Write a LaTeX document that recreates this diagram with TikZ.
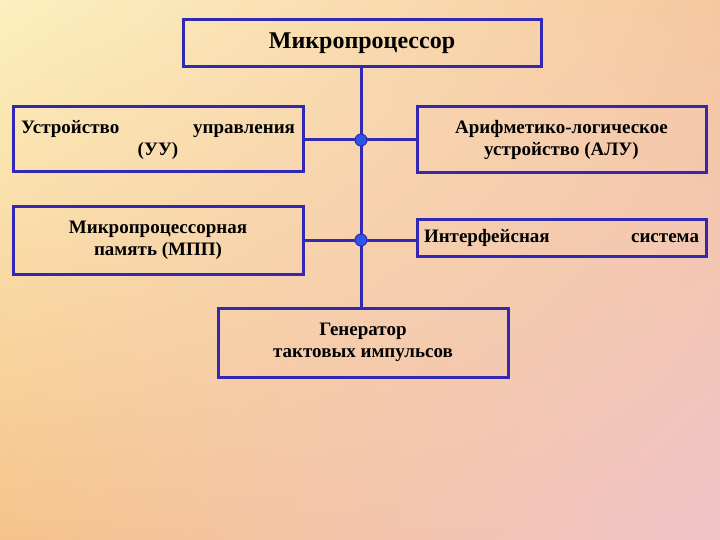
\documentclass[tikz,border=0pt]{standalone}
\usepackage{fontspec}
\setmainfont{Liberation Serif}
\usetikzlibrary{shadings}
\begin{document}
\begin{tikzpicture}[x=1pt,y=-1pt,
  box/.style={draw=lineblue,line width=3pt,inner sep=0pt,font=\bfseries\fontsize{19}{22}\selectfont,align=center},
  link/.style={draw=lineblue,line width=3pt},
  dot/.style={circle,fill=dotblue,draw=lineblue,line width=1pt,minimum size=12pt,inner sep=0pt}]
\definecolor{lineblue}{RGB}{50,40,180}
\definecolor{dotblue}{RGB}{45,85,235}
\definecolor{tl}{RGB}{252,240,190}
\definecolor{tr}{RGB}{246,200,160}
\definecolor{bl}{RGB}{246,195,140}
\definecolor{br}{RGB}{240,195,200}
\shade[upper left=tl,upper right=tr,lower left=bl,lower right=br] (0,0) rectangle (720,540);
\useasboundingbox (0,0) rectangle (720,540);
\node[box,minimum width=358pt,minimum height=47pt,font=\bfseries\fontsize{24}{28}\selectfont] (mp) at (362,43.5) {Микропроцессор};
\node[box,minimum width=290pt,minimum height=65pt] (uu) at (158,139.5) {\begin{minipage}{274pt}\centering Устройство\hfill управления\\(УУ)\end{minipage}};
\node[box,minimum width=290pt,minimum height=67pt] (mpp) at (158,240.5) {Микропроцессорная\\память (МПП)};
\node[box,minimum width=289pt,minimum height=66pt] (alu) at (561.5,140) {Арифметико-логическое\\устройство (АЛУ)};
\node[box,minimum width=289pt,minimum height=36pt] (is) at (561.5,238) {\begin{minipage}{275pt}Интерфейсная\hfill система\end{minipage}};
\node[box,minimum width=290pt,minimum height=69pt] (gen) at (363,342.5) {Генератор\\тактовых импульсов};
\coordinate (j1) at (361,140);
\coordinate (j2) at (361,240);
\draw[link] (mp.south -| j1) -- (gen.north -| j1);
\draw[link] (uu.east |- j1) -- (alu.west |- j1);
\draw[link] (mpp.east |- j2) -- (is.west |- j2);
\node[dot] (d1) at (j1) {};
\node[dot] (d2) at (j2) {};
\end{tikzpicture}
\end{document}
